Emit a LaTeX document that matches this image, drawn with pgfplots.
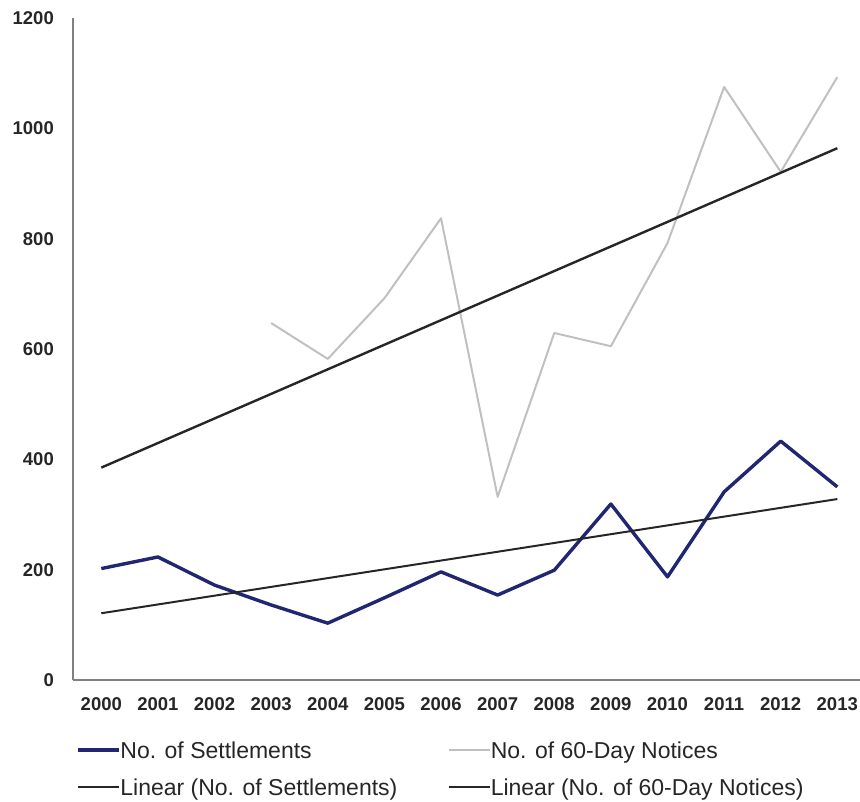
\documentclass[border=0pt]{standalone}
\usepackage{fontspec}
\setmainfont{Liberation Sans}
\usepackage{pgfplots}
\pgfplotsset{compat=1.18}

\definecolor{settleblue}{RGB}{32,38,112}
\definecolor{noticegray}{RGB}{192,192,192}
\definecolor{trenddark}{RGB}{38,38,38}
\definecolor{axisgray}{RGB}{128,128,128}

\begin{document}
\begin{tikzpicture}
\path[use as bounding box] (0,0) rectangle (860bp,802bp);
\begin{axis}[
  at={(73bp,122bp)}, anchor=south west,
  scale only axis, width=787bp, height=662bp,
  xmin=1999.5, xmax=2013.4,
  ymin=0, ymax=1200,
  xtick={2000,...,2013},
  ytick={0,200,...,1200},
  axis x line=bottom, axis y line=left,
  axis line style={-, axisgray, line width=1.6bp},
  major tick length=0pt,
  /pgf/number format/assume math mode=true,
  /pgf/number format/set thousands separator={},
  tick label style={font=\fontsize{18.5bp}{22bp}\selectfont\bfseries, text=black!85},
  xticklabel style={inner sep=0pt, anchor=north, yshift=-17bp},
  yticklabel style={inner sep=0pt, anchor=east, xshift=-19bp},
  legend columns=2,
  legend cell align=left,
  legend image code/.code={\draw[#1] (0bp,9.5bp) -- (41bp,9.5bp);},
  legend style={
    draw=none, fill=none, inner sep=0pt, outer sep=0pt,
    at={(0,0)}, anchor=north west, xshift=3bp, yshift=-61bp,
    font=\fontsize{23bp}{27bp}\selectfont, text=black!85,
    nodes={inner sep=0pt, text height=17bp, text depth=20bp},
    /tikz/every even column/.append style={column sep=50bp},
  },
]
% number of settlements per year
\addplot[settleblue, line width=3.4bp, line join=round] coordinates {
  (2000,202) (2001,223) (2002,172) (2003,136) (2004,103) (2005,149) (2006,196)
  (2007,154) (2008,199) (2009,319) (2010,187) (2011,341) (2012,433) (2013,350)
};
\addlegendentry{No. of Settlements}
% number of 60-day notices per year
\addplot[noticegray, line width=2bp, line join=round] coordinates {
  (2003,647) (2004,582) (2005,692) (2006,837) (2007,332) (2008,629)
  (2009,605) (2010,792) (2011,1075) (2012,921) (2013,1093)
};
\addlegendentry{No. of 60-Day Notices}
% linear trend of settlements
\addplot[trenddark, line width=2bp] coordinates {(2000,121) (2013,328)};
\addlegendentry{Linear (No. of Settlements)}
% linear trend of 60-day notices
\addplot[trenddark, line width=2.4bp] coordinates {(2000,385) (2013,964)};
\addlegendentry{Linear (No. of 60-Day Notices)}
\end{axis}
\end{tikzpicture}
\end{document}
